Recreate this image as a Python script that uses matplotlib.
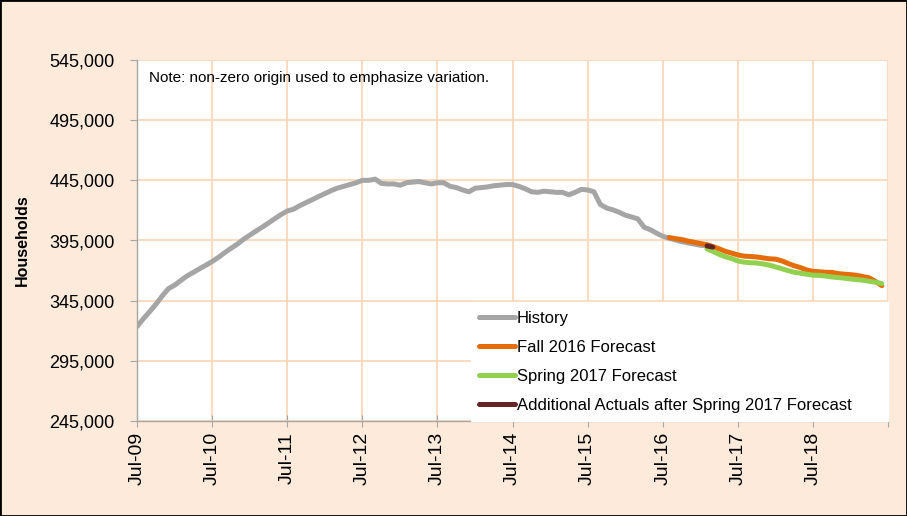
import matplotlib
matplotlib.use('Agg')
import matplotlib.pyplot as plt
from matplotlib.patches import Rectangle
from matplotlib.ticker import FuncFormatter
import numpy as np
import pandas as pd

plt.rcParams['font.family'] = ['Liberation Sans', 'DejaVu Sans']

# Households, thousands, monthly
history = [
    323.5, 330, 336, 342, 349, 355, 358, 362, 365.5, 368.5, 371.5, 374.5,
    377.5, 381, 385, 388.5, 392, 396, 399.5, 403, 406, 409.5, 413, 416.5,
    419.5, 421, 424, 426.5, 429, 431.5, 434, 436.5, 438.5, 440, 441.5, 443,
    445, 445, 446, 442.5, 442, 442, 441, 443, 443.5, 444, 443, 442,
    443, 443, 440, 439, 437, 435.5, 438.5, 439, 439.5, 440.5, 441, 441.5,
    441.5, 440, 438, 435.5, 435, 436, 435.5, 435, 435, 433, 435, 437.5,
    437, 435.5, 425, 422, 420.5, 418.5, 416, 414.5, 413, 406, 404, 401,
    398.5, 396.8, 395.5, 394, 393, 392, 391, 390.5,
]
fall_2016 = [
    397.5, 396.5, 395.8, 394.5, 393.5, 392.5, 391.5, 390, 388, 386, 384.5,
    383, 382, 381.7, 381.3, 380.5, 379.8, 379.5, 378, 376, 374, 372.5, 370.5,
    369.4, 369, 368.6, 368.5, 367.5, 367, 366.6, 366, 365, 363.9, 361, 357.5,
]
spring_2017 = [
    388, 386, 383.5, 381.5, 380, 378, 377, 376.5, 376.3, 375.5, 374.5, 373,
    371.5, 370, 368.6, 367.8, 367, 366.2, 366, 365.5, 364.7, 364.2, 363.7,
    363, 362.5, 362, 361.1, 360.3, 359.2,
]
extra_actuals = [390.5, 389.5]

history_dates = pd.date_range('2009-07-01', periods=len(history), freq='MS')
fall_dates = pd.date_range('2016-08-01', periods=len(fall_2016), freq='MS')
spring_dates = pd.date_range('2017-02-01', periods=len(spring_2017), freq='MS')
extra_dates = pd.date_range('2017-02-01', periods=len(extra_actuals), freq='MS')

tick_dates = pd.date_range('2009-07-01', '2019-07-01', freq='12MS')
tick_labels = [d.strftime('%b-%y') for d in tick_dates[:-1]] + ['']
y_ticks = [245000, 295000, 345000, 395000, 445000, 495000, 545000]

bg = '#FDEADA'
fig = plt.figure(figsize=(9.07, 5.16), dpi=100, facecolor=bg)
ax = fig.add_axes([137 / 907, 95 / 516, 751 / 907, 361 / 516])
ax.set_facecolor('white')

lw = 3.6
ax.plot(history_dates, np.array(history) * 1000, color='#A5A5A5', lw=lw,
        solid_capstyle='round', label='History', zorder=2)
ax.plot(fall_dates, np.array(fall_2016) * 1000, color='#E46C0A', lw=lw,
        solid_capstyle='round', label='Fall 2016 Forecast', zorder=3)
ax.plot(spring_dates, np.array(spring_2017) * 1000, color='#92D050', lw=lw,
        solid_capstyle='round', label='Spring 2017 Forecast', zorder=4)
ax.plot(extra_dates, np.array(extra_actuals) * 1000, color='#632423', lw=lw,
        solid_capstyle='round',
        label='Additional Actuals after Spring 2017 Forecast', zorder=5)

ax.set_xlim(tick_dates[0], tick_dates[-1])
ax.set_ylim(245000, 545000)
ax.set_xticks(tick_dates)
ax.set_xticklabels(tick_labels)
ax.set_yticks(y_ticks)
ax.yaxis.set_major_formatter(FuncFormatter(lambda v, p: f'{v:,.0f}'))

ax.grid(True, color='#FCD5B5', lw=1.2)
ax.set_axisbelow(True)
for side in ['top', 'right']:
    ax.spines[side].set_visible(False)
for side in ['left', 'bottom']:
    ax.spines[side].set_color('#A6A6A6')
    ax.spines[side].set_linewidth(1)

ax.tick_params(axis='x', direction='inout', length=8, color='#A6A6A6',
               labelsize=14, labelrotation=90, pad=4)
ax.tick_params(axis='y', direction='out', length=5, color='#A6A6A6',
               labelsize=13, pad=11)

fig.text(22 / 907, 1 - 240 / 516, 'Households', rotation=90,
         fontweight='bold', fontsize=11.5, ha='center', va='center')
ax.text(0.016, 0.95, 'Note: non-zero origin used to emphasize variation.',
        transform=ax.transAxes, fontsize=11, ha='left', va='center')

leg_x0 = (471 - 137) / 751
leg = ax.legend(loc='lower left', bbox_to_anchor=(leg_x0, 0.0, 1 - leg_x0, 0.3),
                mode='expand', borderaxespad=0, fancybox=False,
                edgecolor='white', facecolor='white', framealpha=1,
                fontsize=12, handlelength=2.15, handletextpad=0.1,
                labelspacing=0.84, borderpad=0.5)

fig.patches.append(Rectangle((0, 0), 1, 1, transform=fig.transFigure,
                             fill=False, edgecolor='black', lw=2))

fig.savefig('out.png', dpi=100, facecolor=bg)
